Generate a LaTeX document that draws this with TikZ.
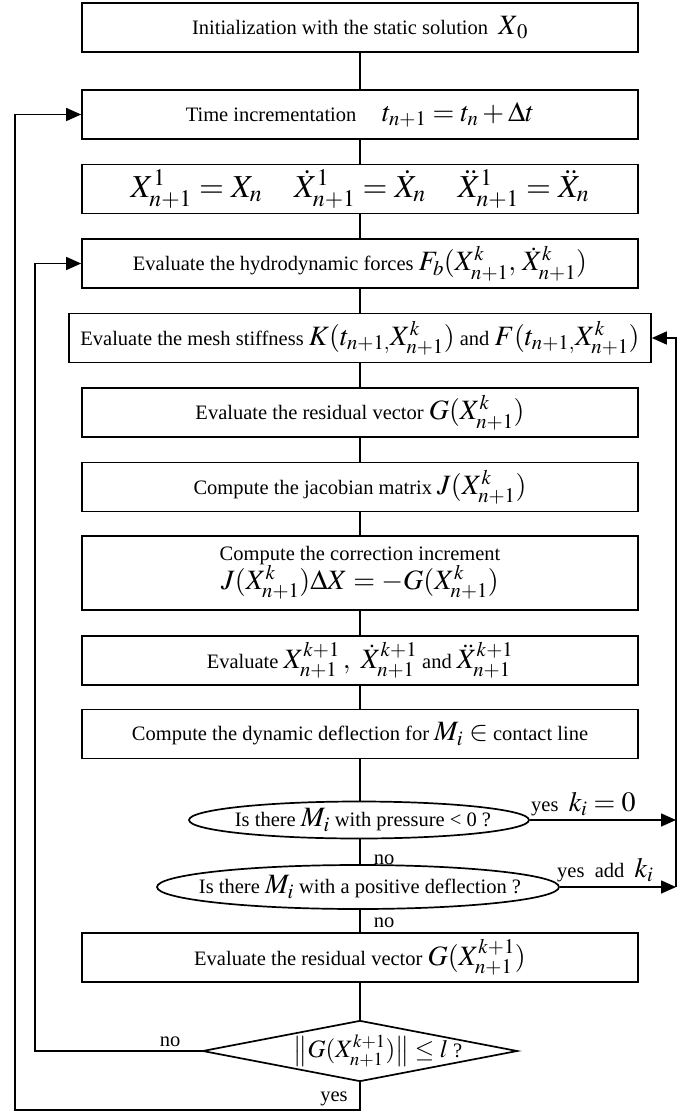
\documentclass[tikz,border=0pt]{standalone}
\usepackage{mathptmx}
\usepackage[no-math]{fontspec}
\setmainfont{Liberation Serif}
\usetikzlibrary{shapes.geometric,arrows.meta}
\newcommand{\mth}[1]{{\fontsize{28}{30}\selectfont$#1$}}
\tikzset{
  box/.style={draw, line width=1.7pt, minimum width=556pt, minimum height=49pt, inner sep=0pt, align=center, font=\fontsize{20.5}{29}\selectfont},
  oval/.style={draw, ellipse, line width=1.7pt, inner sep=0pt},
  rhomb/.style={draw, diamond, line width=1.7pt, inner sep=0pt},
  txt/.style={inner sep=0pt, font=\fontsize{20.5}{24}\selectfont},
  link/.style={line width=1.6pt},
  arr/.style={line width=1.6pt, -{Triangle[length=15pt,width=13pt]}}
}
\begin{document}
\begin{tikzpicture}[x=1pt,y=-1pt]
\useasboundingbox (0,0) rectangle (679,1115);
\node[box] (b1) at (360,27.5) {Initialization with the static solution\ \ \mth{X_{\,0}}};
\node[box] (b2) at (360,114.5) {Time incrementation\quad\ \mth{t_{n+1}=t_n+\Delta t}};
\node[box] (b3) at (360,189) {{\fontsize{32}{34}\selectfont$X^1_{n+1}=X_n\quad \dot X^1_{n+1}=\dot X_n\quad \ddot X^1_{n+1}=\ddot X_n$}};
\node[box] (b4) at (360,263.5) {Evaluate the hydrodynamic forces \mth{F_b(X^k_{n+1},\,\dot X^k_{n+1})}};
\node[box, minimum width=582pt] (b5) at (360,338) {Evaluate the mesh stiffness \mth{K(t_{n+1,}X^k_{n+1})} and \mth{F(t_{n+1,}X^k_{n+1})}};
\node[box] (b6) at (360,412.5) {Evaluate the residual vector \mth{G(X^k_{n+1})}};
\node[box] (b7) at (360,487) {Compute the jacobian matrix \mth{J(X^k_{n+1})}};
\node[box, minimum height=74pt] (b8) at (360,573) {Compute the correction increment\\ \mth{J(X^k_{n+1})\Delta X=-G(X^k_{n+1})}};
\node[box] (b9) at (360,660.5) {Evaluate \mth{X^{k+1}_{n+1}\,,\ \dot X^{k+1}_{n+1}} and \mth{\ddot X^{k+1}_{n+1}}};
\node[box] (b10) at (360,734) {Compute the dynamic deflection for \mth{M_i\in} contact line};
\node[oval, minimum width=340pt, minimum height=37pt] (e1) at (359,820) {};
\node[txt] at (363,820) {Is there \mth{M_i}\ with pressure < 0 ?};
\node[oval, minimum width=402pt, minimum height=44pt] (e2) at (358,887) {};
\node[txt] at (360,887) {Is there \mth{M_i}\ with a positive deflection ?};
\node[box] (b11) at (360,957.5) {Evaluate the residual vector \mth{G(X^{k+1}_{n+1})}};
\node[rhomb, minimum width=315pt, minimum height=61pt] (d) at (360,1051) {};
\node[txt] at (378,1051) {{\fontsize{25}{27}\selectfont$\left\|G(X^{k+1}_{n+1})\right\|\le l$}\ ?};
% coordinates
\coordinate (cb) at (15,1110);
\coordinate (cl) at (35,1051);
\coordinate (r1) at (676,820);
\coordinate (r2) at (676,887);
\coordinate (r5) at (676,338);
% connectors
\draw[link] (b1) -- (b2);
\draw[link] (b2) -- (b3);
\draw[link] (b3) -- (b4);
\draw[link] (b4) -- (b5);
\draw[link] (b5) -- (b6);
\draw[link] (b6) -- (b7);
\draw[link] (b7) -- (b8);
\draw[link] (b8) -- (b9);
\draw[link] (b9) -- (b10);
\draw[link] (b10.south) -- (e1.north -| b10.south);
\draw[link] (e1.south -| b10.south) -- (e2.north -| b10.south);
\draw[link] (e2.south -| b10.south) -- (b11.north);
\draw[link] (b11) -- (d);
\draw[arr] (d.south) |- (cb) |- (b2.west);
\draw[arr] (d.west) -- (cl) |- (b4.west);
\draw[arr] (e1.east) -- (r1);
\draw[arr] (e2.east) -- (r2);
\draw[arr] (r2) -- (r5) -- (b5.east);
% labels
\node[txt, anchor=south west] at (531,816) {yes\ \ \mth{k_i=0}};
\node[txt, anchor=south west] at (557,882) {yes\ \ add\ \ \mth{k_i}};
\node[txt] at (384,860) {no};
\node[txt] at (384,923) {no};
\node[txt] at (170,1042) {no};
\node[txt] at (334,1099) {yes};
\end{tikzpicture}
\end{document}
